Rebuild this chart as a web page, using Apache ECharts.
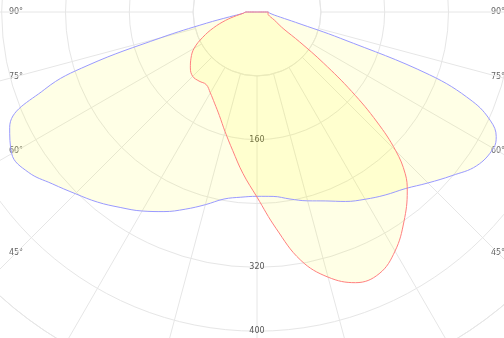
<!DOCTYPE html>
<html>
<head>
    <meta charset="utf-8">
    <style>
        html, body{
            margin: 0;
            padding: 0;
            background: #fff;
        }
        #chart{
            width: 504px;
            height: 338px;
        }
    </style>
</head>
<body>
<div id="chart"></div>
<script src="https://cdn.jsdelivr.net/npm/echarts@6/dist/echarts.min.js"></script>
<script type="text/javascript">
    // C0-C180 plane (blue), angle from nadir, negative = left side
    var blueAngles = [-180, -90, -85, -80, -77.5, -75, -72.5, -70, -65, -60, -55, -50, -45, -40, -35, -30, -25, -20, -15, -10, -5,
        0, 5, 10, 15, 20, 25, 30, 35, 40, 45, 50, 55, 60, 62.5, 65, 67.5, 70, 72.5, 75, 77.5, 80, 85, 90, 180];
    var blueValues = [0, 14, 17, 35, 65, 125, 222, 283, 342, 355, 350, 335, 322, 311, 299, 288, 276, 263, 250, 238, 233,
        231, 232, 238, 245, 252, 262, 271, 280, 289, 303, 319, 336, 342, 338, 323, 292, 230, 110, 50, 30, 22, 16, 14, 0];

    // C90-C270 plane (red)
    var redAngles = [-180, -90, -85, -80, -75, -70, -65, -60, -55, -50, -45, -40, -35, -30, -25, -20, -15, -10, -5,
        0, 5, 10, 15, 20, 25, 30, 35, 40, 42.5, 45, 47.5, 50, 52.5, 55, 57.5, 60, 65, 70, 75, 80, 85, 90, 180];
    var redValues = [0, 14, 17, 26, 41, 58, 75, 91, 101, 109, 114, 113, 111, 117, 126, 138, 155, 176, 203,
        232, 272, 316, 344, 361, 362, 346, 321, 293, 275, 246, 204, 155, 105, 65, 40, 32, 24, 18, 15, 14, 14, 14, 0];

    var radiusLabels = [160, 320, 400];
    var angleLabels = [90, 75, 60, 45];

    var cx = 257, cy = 12, outer = 383, inner = 64;

    function toPolar(angles, values){
        var out = [];
        for (var i = 0; i < angles.length; i++) {
            var a = angles[i] < 0 ? 360 + angles[i] : angles[i];
            out.push([values[i], a]);
        }
        return out;
    }

    // angle labels sit on the spokes near the left/right edges
    var graphics = [];
    var dx = 241;
    angleLabels.forEach(function (a) {
        var y = a === 90 ? cy : cy + dx / Math.tan(a * Math.PI / 180);
        [cx - dx, cx + dx].forEach(function (x) {
            graphics.push({
                type: 'text', x: x, y: y,
                style: {text: a + '°', fill: '#666', font: '8px "DejaVu Sans"', textAlign: 'center', textVerticalAlign: 'middle'}
            });
        });
    });

    var chart = echarts.init(document.getElementById('chart'));
    var option = {
        animation: false,
        backgroundColor: '#fff',
        graphic: graphics,
        polar: [
            {center: [cx, cy], radius: [0, outer]},
            {center: [cx, cy], radius: [inner, outer]}
        ],
        angleAxis: [
            {polarIndex: 0, type: 'value', min: 0, max: 360, startAngle: 270, clockwise: false, show: false},
            {
                polarIndex: 1, type: 'value', min: 0, max: 360, interval: 15, startAngle: 270, clockwise: false,
                axisLine: {show: true, lineStyle: {color: '#e6e6e6'}},
                axisTick: {show: false},
                axisLabel: {show: false},
                splitLine: {show: true, lineStyle: {color: '#e6e6e6', width: 1}}
            }
        ],
        radiusAxis: [
            {
                polarIndex: 0, type: 'value', min: 0, max: 480, interval: 80,
                axisLine: {show: false},
                axisTick: {show: false},
                splitLine: {show: true, lineStyle: {color: '#e6e6e6', width: 1}},
                axisLabel: {
                    margin: 0, align: 'center', verticalAlign: 'middle',
                    color: '#555', fontSize: 8, fontFamily: 'DejaVu Sans',
                    formatter: function (v) { return radiusLabels.indexOf(v) >= 0 ? String(v) : ''; }
                }
            },
            {polarIndex: 1, type: 'value', min: 0, max: 480, show: false}
        ],
        series: [
            {
                name: 'C0-C180', type: 'line', coordinateSystem: 'polar', polarIndex: 0,
                data: toPolar(blueAngles, blueValues),
                smooth: 0.4, symbol: 'none',
                lineStyle: {color: '#9a9aff', width: 1},
                areaStyle: {color: 'rgba(255,255,0,0.14)'}
            },
            {
                name: 'C90-C270', type: 'line', coordinateSystem: 'polar', polarIndex: 0,
                data: toPolar(redAngles, redValues),
                smooth: 0.4, symbol: 'none',
                lineStyle: {color: '#ff8080', width: 1},
                areaStyle: {color: 'rgba(255,255,0,0.14)'}
            }
        ]
    };
    chart.setOption(option);
</script>
</body>
</html>
